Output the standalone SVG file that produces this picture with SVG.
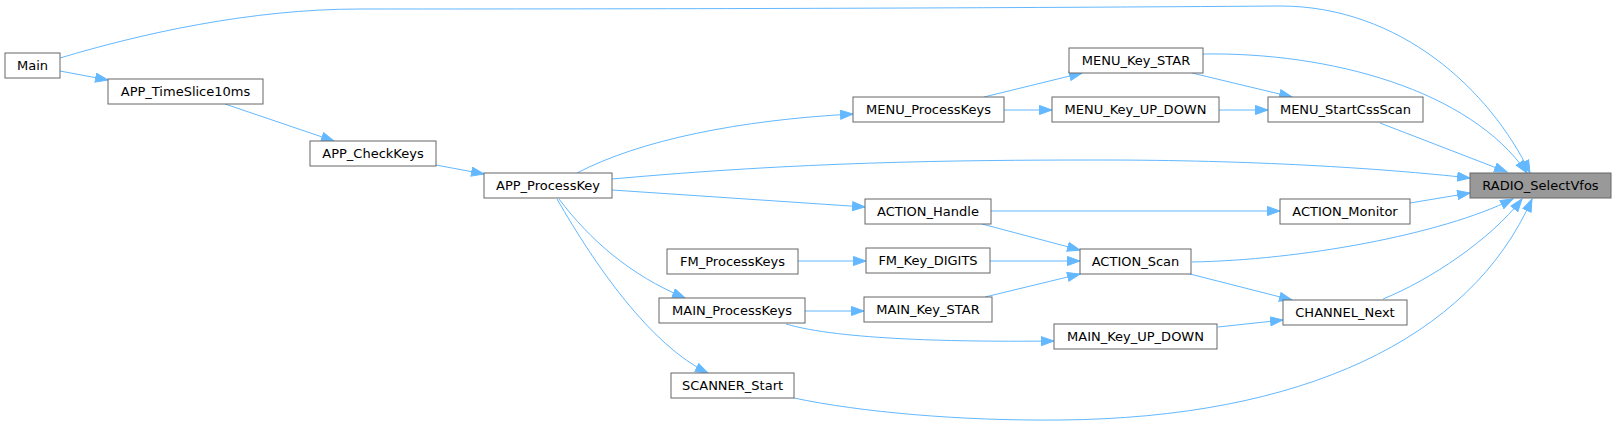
<svg xmlns="http://www.w3.org/2000/svg" width="1616" height="426" viewBox="0 0 1616 426">
<style>
.node rect{fill:#ffffff;stroke:#666666;stroke-width:1}
.node.cur rect{fill:#999999}
.node text{font-family:"DejaVu Sans",sans-serif;font-size:13px;fill:#000000;text-anchor:middle}
.edges path{fill:none;stroke:#63b8ff;stroke-width:1;marker-end:url(#arr)}
</style>
<defs>
<marker id="arr" markerUnits="userSpaceOnUse" markerWidth="16" markerHeight="12" refX="13" refY="5" orient="auto">
<path d="M0.5,0.5 L13,5 L0.5,9.5 Z" fill="#63b8ff" stroke="#63b8ff" stroke-width="1"/>
</marker>
</defs>
<rect width="1616" height="426" fill="#ffffff"/>
<g class="edges">
<path d="M60,58 C140,34 250,9 360,9 C700,9 1000,8 1280,6 C1400,6 1490,90 1530,173"/>
<path d="M60,71 L108,80"/>
<path d="M225,104 L334,141"/>
<path d="M436,165 L484,174"/>
<path d="M577,173 C640,140 740,120 853,114"/>
<path d="M612,179 C800,162 950,160 1100,160 C1250,160 1380,168 1470,178"/>
<path d="M612,190 L865,207"/>
<path d="M559,199 C590,240 630,275 685,298"/>
<path d="M557,199 C595,265 650,345 708,373"/>
<path d="M984,97 L1082,73"/>
<path d="M1004,110 L1052,110"/>
<path d="M1203,54 C1330,52 1470,90 1527,173"/>
<path d="M1192,73 L1292,97"/>
<path d="M1219,110 L1268,110"/>
<path d="M1380,123 L1507,172"/>
<path d="M991,211 L1280,211"/>
<path d="M982,224 L1080,250"/>
<path d="M1410,203 L1470,193"/>
<path d="M798,261 L866,261"/>
<path d="M990,261 L1080,261"/>
<path d="M805,311 L864,311"/>
<path d="M786,324 C840,340 960,342 1054,341"/>
<path d="M985,297 L1080,274"/>
<path d="M1192,262 C1300,260 1440,235 1513,199"/>
<path d="M1190,274 L1292,300"/>
<path d="M1218,327 L1283,320"/>
<path d="M1383,299 C1430,280 1490,240 1522,199"/>
<path d="M794,398 C860,412 960,421 1060,420 C1300,418 1470,340 1532,199"/>
</g>
<g id="node_Main" class="node"><rect x="5" y="53" width="55" height="25"/><text x="32.5" y="70">Main</text></g>
<g id="node_APP_TimeSlice10ms" class="node"><rect x="108" y="79" width="155" height="25"/><text x="185.5" y="96">APP_TimeSlice10ms</text></g>
<g id="node_APP_CheckKeys" class="node"><rect x="310" y="141" width="126" height="25"/><text x="373" y="158">APP_CheckKeys</text></g>
<g id="node_APP_ProcessKey" class="node"><rect x="484" y="173" width="128" height="25"/><text x="548" y="190">APP_ProcessKey</text></g>
<g id="node_MENU_ProcessKeys" class="node"><rect x="853" y="97" width="151" height="25"/><text x="928.5" y="114">MENU_ProcessKeys</text></g>
<g id="node_MENU_Key_STAR" class="node"><rect x="1069" y="48" width="134" height="25"/><text x="1136" y="65">MENU_Key_STAR</text></g>
<g id="node_MENU_Key_UP_DOWN" class="node"><rect x="1052" y="97" width="167" height="25"/><text x="1135.5" y="114">MENU_Key_UP_DOWN</text></g>
<g id="node_MENU_StartCssScan" class="node"><rect x="1268" y="97" width="155" height="25"/><text x="1345.5" y="114">MENU_StartCssScan</text></g>
<g id="node_RADIO_SelectVfos" class="node cur"><rect x="1470" y="173" width="141" height="25"/><text x="1540.5" y="190">RADIO_SelectVfos</text></g>
<g id="node_ACTION_Handle" class="node"><rect x="865" y="199" width="126" height="25"/><text x="928" y="216">ACTION_Handle</text></g>
<g id="node_ACTION_Monitor" class="node"><rect x="1280" y="199" width="130" height="25"/><text x="1345" y="216">ACTION_Monitor</text></g>
<g id="node_FM_ProcessKeys" class="node"><rect x="667" y="249" width="131" height="25"/><text x="732.5" y="266">FM_ProcessKeys</text></g>
<g id="node_FM_Key_DIGITS" class="node"><rect x="866" y="248" width="124" height="25"/><text x="928" y="265">FM_Key_DIGITS</text></g>
<g id="node_ACTION_Scan" class="node"><rect x="1080" y="249" width="111" height="25"/><text x="1135.5" y="266">ACTION_Scan</text></g>
<g id="node_MAIN_ProcessKeys" class="node"><rect x="659" y="298" width="146" height="25"/><text x="732" y="315">MAIN_ProcessKeys</text></g>
<g id="node_MAIN_Key_STAR" class="node"><rect x="864" y="297" width="128" height="25"/><text x="928" y="314">MAIN_Key_STAR</text></g>
<g id="node_MAIN_Key_UP_DOWN" class="node"><rect x="1054" y="324" width="163" height="25"/><text x="1135.5" y="341">MAIN_Key_UP_DOWN</text></g>
<g id="node_CHANNEL_Next" class="node"><rect x="1283" y="300" width="124" height="25"/><text x="1345" y="317">CHANNEL_Next</text></g>
<g id="node_SCANNER_Start" class="node"><rect x="671" y="373" width="123" height="25"/><text x="732.5" y="390">SCANNER_Start</text></g>
</svg>
